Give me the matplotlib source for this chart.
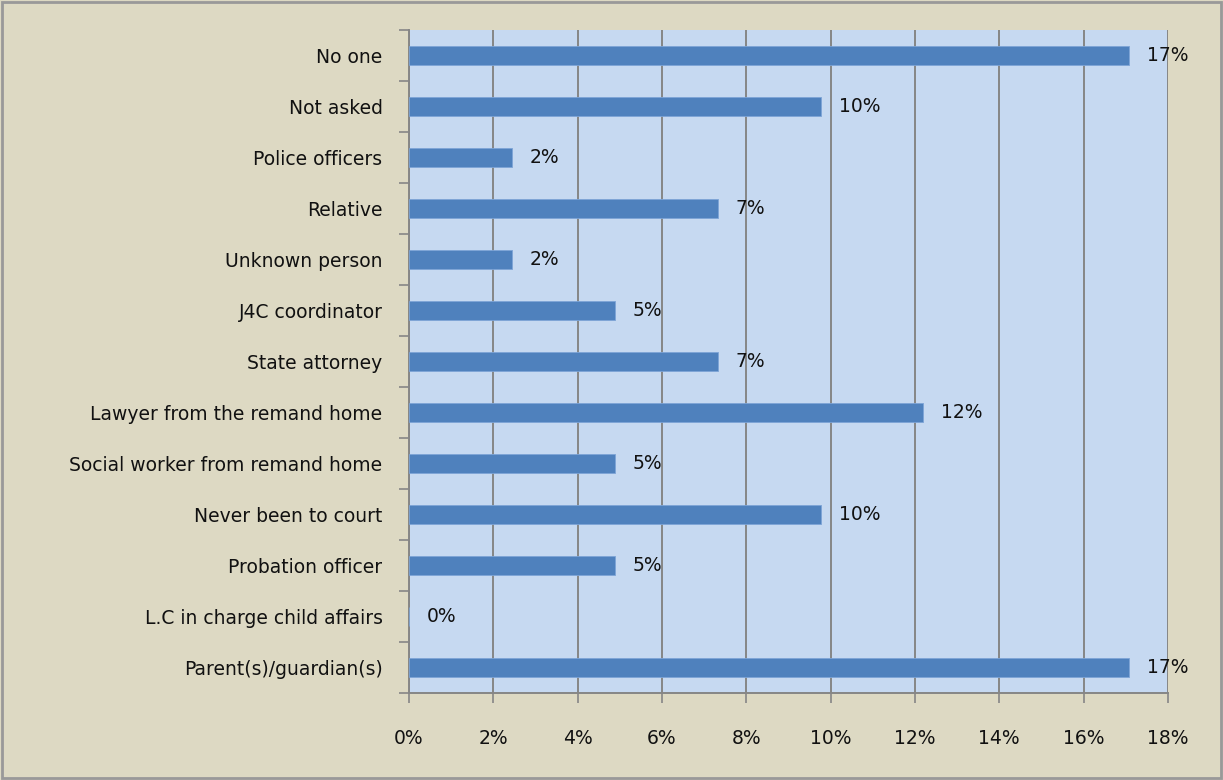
import matplotlib
import matplotlib.pyplot as plt
from matplotlib.ticker import FuncFormatter, MultipleLocator
from matplotlib.patches import Rectangle

matplotlib.use("Agg")

categories = [
    "No one",
    "Not asked",
    "Police officers",
    "Relative",
    "Unknown person",
    "J4C coordinator",
    "State attorney",
    "Lawyer from the remand home",
    "Social worker from remand home",
    "Never been to court",
    "Probation officer",
    "L.C in charge child affairs",
    "Parent(s)/guardian(s)",
]
# share of respondents, percent
shares = [17.07, 9.76, 2.44, 7.32, 2.44, 4.88, 7.32, 12.20, 4.88, 9.76, 4.88, 0.0, 17.07]

BG = "#ddd9c3"
PLOT_BG = "#c6d9f1"
BAR = "#4f81bd"
GRID = "#868686"

fig = plt.figure(figsize=(12.23, 7.8), dpi=100, facecolor=BG)
ax = fig.add_axes([0.3344, 0.1115, 0.6206, 0.85])
ax.set_facecolor(PLOT_BG)

pos = list(range(len(categories)))
ax.barh(pos, shares, height=0.37, color=BAR, edgecolor="#7da4d6",
        linewidth=0.6, zorder=3)
for y, v in zip(pos, shares):
    ax.annotate(f"{v:.0f}%", (v, y), xytext=(13, 0), textcoords="offset points",
                va="center", ha="left", fontsize=13.5, color="#111111", zorder=5)

ax.set_ylim(len(categories) - 0.5, -0.5)
ax.set_xlim(0, 18)
ax.xaxis.set_major_locator(MultipleLocator(2))
ax.xaxis.set_major_formatter(FuncFormatter(lambda x, _: f"{x:.0f}%"))
ax.grid(axis="x", color=GRID, linewidth=1.4, zorder=1)
ax.set_axisbelow(True)

ax.set_yticks(pos)
ax.set_yticklabels(categories, fontsize=13.5, color="#111111")
ax.set_yticks([p + 0.5 for p in pos[:-1]] + [-0.5, len(pos) - 0.5], minor=True)
ax.tick_params(axis="y", which="major", length=0, pad=19)
ax.tick_params(axis="y", which="minor", length=7, color=GRID, width=1.2)
ax.tick_params(axis="x", length=7, color=GRID, width=1.2, labelsize=13.5,
               labelcolor="#111111", pad=19)

for side in ("top", "right"):
    ax.spines[side].set_visible(False)
for side in ("left", "bottom"):
    ax.spines[side].set_color(GRID)
    ax.spines[side].set_linewidth(1.4)

# outer chart border
fig.patches.append(Rectangle((0.002, 0.003), 0.996, 0.994, transform=fig.transFigure,
                             fill=False, edgecolor="#999999", linewidth=2))

fig.savefig("out.png", dpi=100, facecolor=BG)
